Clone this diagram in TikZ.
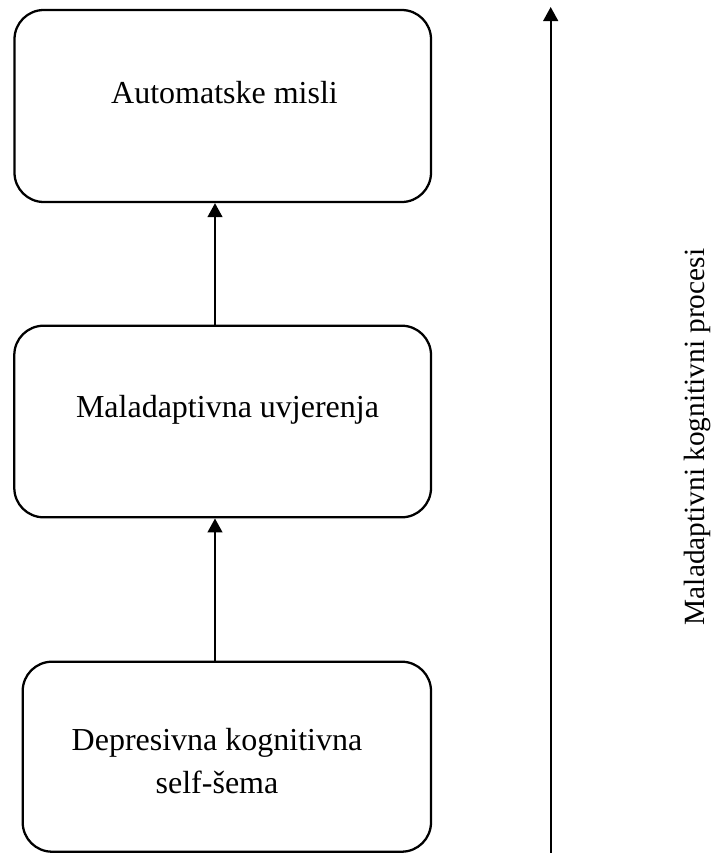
\documentclass[tikz,border=0pt]{standalone}
\usepackage{fontspec}
\setmainfont{Liberation Serif}
\usetikzlibrary{arrows.meta}
\begin{document}
\begin{tikzpicture}[x=0.75pt,y=-0.75pt,
  box/.style={draw,line width=1.7pt,rounded corners=22pt,inner sep=0pt},
  lbl/.style={inner sep=0pt,font=\fontsize{24pt}{32.25pt}\selectfont},
  conn/.style={line width=1.7pt,-{Triangle[length=10.5pt,width=11pt]}}]
\useasboundingbox (0,0) rectangle (718,853);
\node[box,minimum width=416.5*0.75pt,minimum height=192*0.75pt] (b1) at (222.75,106) {};
\node[box,minimum width=416.7*0.75pt,minimum height=191.6*0.75pt] (b2) at (222.65,421.5) {};
\node[box,minimum width=408.3*0.75pt,minimum height=190*0.75pt] (b3) at (226.85,756.7) {};
\node[lbl,anchor=base] (t1) at (224.5,103) {Automatske misli};
\node[lbl,anchor=base] (t2) at (227.5,417.3) {Maladaptivna uvjerenja};
\node[lbl,anchor=base] (t3a) at (217,750) {Depresivna kognitivna};
\node[lbl,anchor=base] (t3b) at (217,793) {self-šema};
\draw[conn] (b2.north -| 215,0) -- (b1.south -| 215,0);
\draw[conn] (b3.north -| 215,0) -- (b2.south -| 215,0);
\coordinate (pb) at (550.7,856);
\coordinate (pt) at (550.7,7);
\draw[conn] (pb) -- (pt);
\node[inner sep=0pt,rotate=90,font=\fontsize{22pt}{26pt}\selectfont] (side) at (697,437) {Maladaptivni kognitivni procesi};
\end{tikzpicture}
\end{document}
